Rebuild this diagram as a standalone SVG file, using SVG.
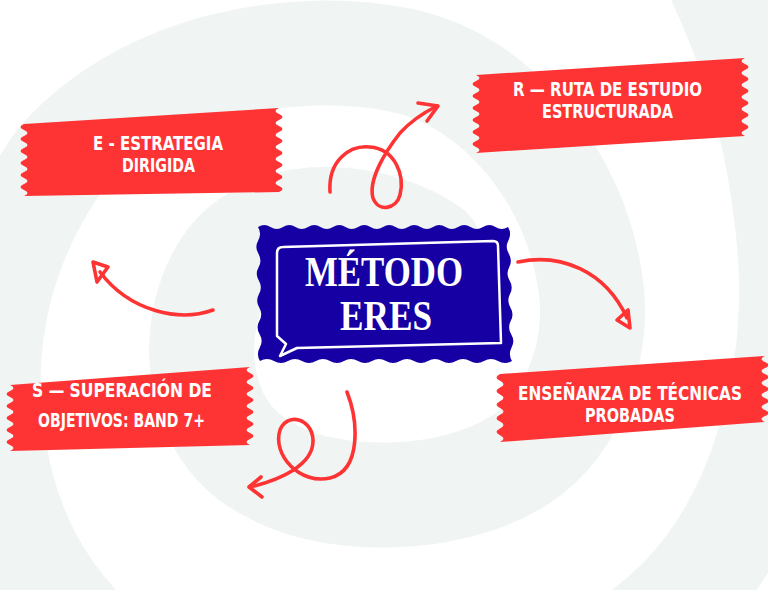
<svg xmlns="http://www.w3.org/2000/svg" width="768" height="590" viewBox="0 0 768 590">
<defs>
<style>
.tape{fill:#fe3434}
.lbl{font-family:"DejaVu Sans Condensed","DejaVu Sans",sans-serif;font-weight:bold;font-size:19px;fill:#ffffff;text-anchor:middle}
.ttl{font-family:"Liberation Serif","DejaVu Serif",serif;font-weight:bold;font-size:43px;fill:#ffffff;text-anchor:middle}
.arr{fill:none;stroke:#fe3434;stroke-width:3.6;stroke-linecap:round;stroke-linejoin:round}
.bg{fill:none;stroke:#f0f5f4;stroke-width:105;stroke-linecap:round}
</style>
</defs>
<rect width="768" height="590" fill="#ffffff"/>
<g id="background">
<path class="bg" d="M430,250 C380,215 280,200 230,260 C185,320 190,430 270,470 C330,505 450,505 520,460 C580,420 600,340 590,280 C575,180 500,80 400,60 C300,40 150,60 60,160 C10,230 -20,320 -10,420 C0,520 40,610 140,680 C300,790 560,720 680,600 C760,520 800,380 790,250 C780,130 750,40 710,-40"/>
</g>
<g id="connectors">
<path class="arr" d="M330,192 C328,160 350,145 370,147 C395,149 405,175 400,195 C396,210 378,212 373,198 C368,180 385,152 400,133 C410,122 425,112 437,106"/>
<path class="arr" d="M418,103 L438,106 L427,121"/>
<path class="arr" d="M213,310 C180,322 130,312 100,272"/>
<path class="arr" d="M93,262 L108,267 L97,282 Z"/>
<path class="arr" d="M518,262 C560,253 605,270 627,318"/>
<path class="arr" d="M617,320 L628,310 L630,328 Z"/>
<path class="arr" d="M347,392 C358,420 362,470 330,478 C300,485 272,455 280,430 C287,412 312,418 313,440 C314,465 280,480 250,487"/>
<path class="arr" d="M261,477 L249,487 L262,497"/>
</g>
<g id="node-center">
<path fill="#1600a4" d="M258,227 q6.25,-4 12.5,0 t12.5,0 t12.5,0 t12.5,0 t12.5,0 t12.5,0 t12.5,0 t12.5,0 t12.5,0 t12.5,0 t12.5,0 t12.5,0 t12.5,0 t12.5,0 t12.5,0 t12.5,0 t12.5,0 t12.5,0 t12.5,0 t12.5,0 q4,6.7 0.4,13.4 t0.4,13.4 t0.4,13.4 t0.4,13.4 t0.4,13.4 t0.4,13.4 t0.4,13.4 t0.4,13.4 t0.4,13.4 t0.4,13.4 q-7,4 -14,0 t-14,0 t-14,0 t-14,0 t-14,0 t-14,0 t-14,0 t-14,0 t-14,0 t-14,0 t-14,0 t-14,0 t-14,0 t-14,0 t-14,0 t-14,0 t-14,0 t-14,0 q-4,-6.7 -0.2,-13.4 t-0.2,-13.4 t-0.2,-13.4 t-0.2,-13.4 t-0.2,-13.4 t-0.2,-13.4 t-0.2,-13.4 t-0.2,-13.4 t-0.2,-13.4 t-0.2,-13.4 Z"/>
<path fill="none" stroke="#ffffff" stroke-width="2.5" stroke-linejoin="round" d="M277,253 Q277,247 283,247 L493,241 Q498,241 498,246 L501,343 L297,348 L280,356 L286,344 L277,336 Z"/>
<text class="ttl" x="384" y="286" textLength="158" lengthAdjust="spacingAndGlyphs">MÉTODO</text>
<text class="ttl" x="386" y="330" textLength="92" lengthAdjust="spacingAndGlyphs">ERES</text>
</g>
<g id="node-e">
<path class="tape" d="M24,124 L279,108 q-7,3 0,6 t0,6 t0,6 t0,6 t0,6 t0,6 t0,6 t0,6 t0,6 t0,6 t0,6 t0,6 t0,6 t0,6 L24,196 q7,-3 0,-6 t0,-6 t0,-6 t0,-6 t0,-6 t0,-6 t0,-6 t0,-6 t0,-6 t0,-6 t0,-6 t0,-6 Z"/>
<text class="lbl" x="158" y="150" textLength="130" lengthAdjust="spacingAndGlyphs">E - ESTRATEGIA</text>
<text class="lbl" x="158.5" y="172" textLength="73" lengthAdjust="spacingAndGlyphs">DIRIGIDA</text>
</g>
<g id="node-r">
<path class="tape" d="M476,75 L745,58 q-7,3 0,6 t0,6 t0,6 t0,6 t0,6 t0,6 t0,6 t0,6 t0,6 t0,6 t0,6 t0,6 t0,6 L476,153 q7,-3 0,-6 t0,-6 t0,-6 t0,-6 t0,-6 t0,-6 t0,-6 t0,-6 t0,-6 t0,-6 t0,-6 t0,-6 t0,-6 Z"/>
<text class="lbl" x="607.5" y="96" textLength="189" lengthAdjust="spacingAndGlyphs">R — RUTA DE ESTUDIO</text>
<text class="lbl" x="607.5" y="118" textLength="131" lengthAdjust="spacingAndGlyphs">ESTRUCTURADA</text>
</g>
<g id="node-s">
<path class="tape" d="M10,385 L250,367 q-7,3 0,6 t0,6 t0,6 t0,6 t0,6 t0,6 t0,6 t0,6 t0,6 t0,6 t0,6 t0,6 t0,6 L10,451 q7,-3 0,-6 t0,-6 t0,-6 t0,-6 t0,-6 t0,-6 t0,-6 t0,-6 t0,-6 t0,-6 t0,-6 Z"/>
<text class="lbl" x="122" y="397" textLength="180" lengthAdjust="spacingAndGlyphs">S — SUPERACIÓN DE</text>
<text class="lbl" x="121.5" y="427" textLength="167" lengthAdjust="spacingAndGlyphs">OBJETIVOS: BAND 7+</text>
</g>
<g id="node-t">
<path class="tape" d="M500,374 L765,356 q-7,3 0,6 t0,6 t0,6 t0,6 t0,6 t0,6 t0,6 t0,6 t0,6 t0,6 t0,6 L500,442 q7,-3.4 0,-6.8 t0,-6.8 t0,-6.8 t0,-6.8 t0,-6.8 t0,-6.8 t0,-6.8 t0,-6.8 t0,-6.8 t0,-6.8 Z"/>
<text class="lbl" x="630" y="400" textLength="224" lengthAdjust="spacingAndGlyphs">ENSEÑANZA DE TÉCNICAS</text>
<text class="lbl" x="630" y="422" textLength="90" lengthAdjust="spacingAndGlyphs">PROBADAS</text>
</g>
</svg>
